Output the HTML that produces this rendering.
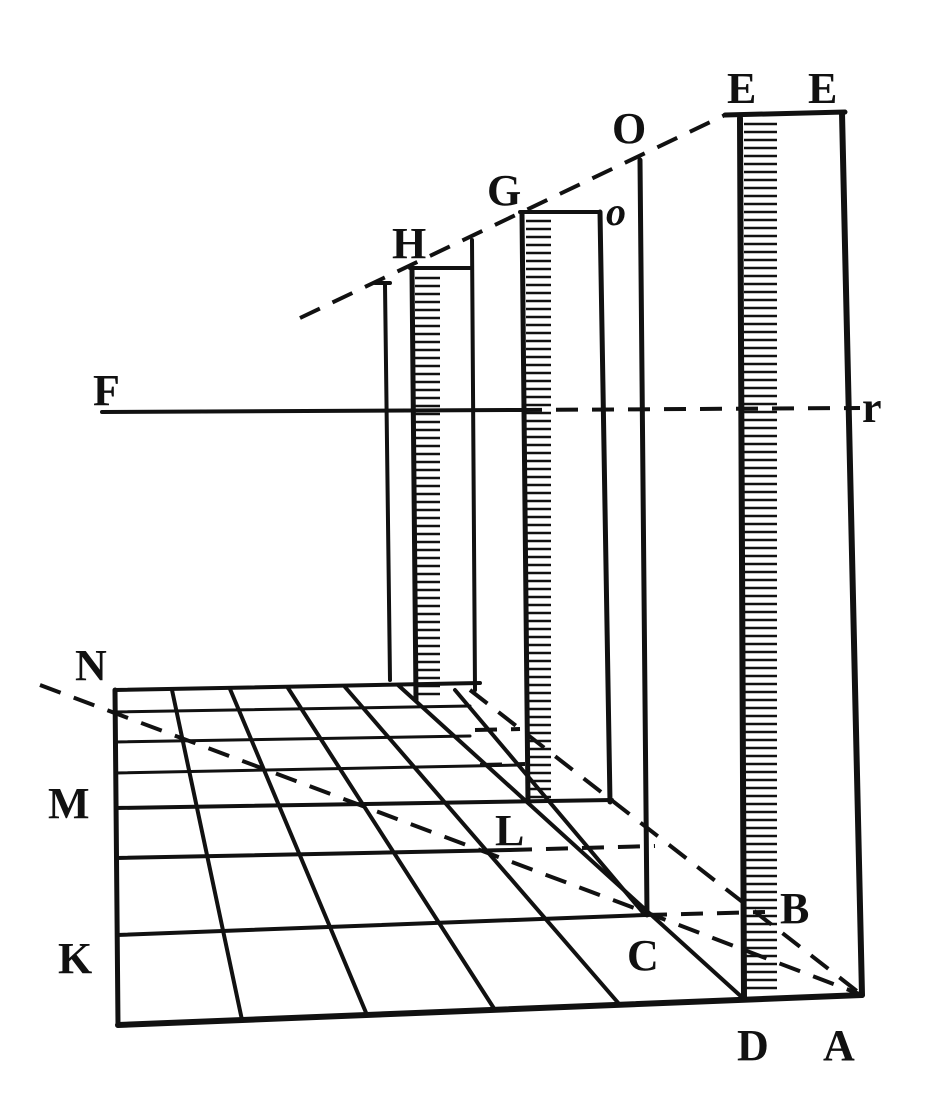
<!DOCTYPE html>
<html><head><meta charset="utf-8"><style>
html,body{margin:0;padding:0;background:#fff}
svg{display:block}
text{font-family:"Liberation Serif",serif;font-weight:bold;fill:#111}
</style></head><body>
<svg id="fig" width="948" height="1117" viewBox="0 0 948 1117" xmlns="http://www.w3.org/2000/svg">
<g id="solid" stroke="#111" stroke-linecap="round" fill="none">
  <line x1="118" y1="1025" x2="862" y2="995" stroke-width="6"/>
  <line x1="118" y1="1025" x2="115" y2="690" stroke-width="5"/>
  <line x1="115" y1="690" x2="480" y2="683" stroke-width="4"/>
  <line x1="115" y1="712" x2="470" y2="706" stroke-width="3"/>
  <line x1="115" y1="742" x2="470" y2="736" stroke-width="3"/>
  <line x1="116" y1="773" x2="520" y2="765" stroke-width="3"/>
  <line x1="116" y1="808" x2="612" y2="800" stroke-width="4"/>
  <line x1="117" y1="858" x2="510" y2="850" stroke-width="4"/>
  <line x1="117" y1="935" x2="645" y2="915" stroke-width="4"/>
  <line x1="172" y1="690" x2="242" y2="1020" stroke-width="4"/>
  <line x1="230" y1="689" x2="367" y2="1015" stroke-width="4"/>
  <line x1="288" y1="688" x2="495" y2="1010" stroke-width="4"/>
  <line x1="345" y1="687" x2="620" y2="1005" stroke-width="4"/>
  <line x1="398" y1="685" x2="745" y2="1000" stroke-width="4"/>
  <line x1="455" y1="690" x2="645" y2="915" stroke-width="4"/>
  <line x1="740" y1="118" x2="744" y2="998" stroke-width="6"/>
  <line x1="842" y1="113" x2="862" y2="995" stroke-width="6"/>
  <line x1="725" y1="115" x2="845" y2="112" stroke-width="5"/>
  <line x1="640" y1="160" x2="647" y2="915" stroke-width="5"/>
  <line x1="522" y1="213" x2="528" y2="802" stroke-width="5"/>
  <line x1="520" y1="212" x2="600" y2="212" stroke-width="4"/>
  <line x1="600" y1="212" x2="610" y2="802" stroke-width="5"/>
  <line x1="412" y1="270" x2="416" y2="700" stroke-width="5"/>
  <line x1="410" y1="268" x2="470" y2="268" stroke-width="4"/>
  <line x1="472" y1="240" x2="475" y2="690" stroke-width="4"/>
  <line x1="385" y1="285" x2="390" y2="680" stroke-width="4"/>
  <line x1="375" y1="283" x2="390" y2="283" stroke-width="4"/>
  <line x1="102" y1="412" x2="520" y2="410" stroke-width="4"/>
</g>
<g id="hatch" stroke="#111" stroke-width="2.5"></g>
<g stroke="#111" stroke-width="4" fill="none" stroke-dasharray="22 14">
  <line x1="300" y1="318" x2="725" y2="115"/>
  <line x1="520" y1="410" x2="860" y2="408"/>
  <line x1="40" y1="685" x2="645" y2="912"/>
  <line x1="645" y1="912" x2="862" y2="995"/>
  <line x1="470" y1="690" x2="862" y2="995"/>
  <line x1="510" y1="850" x2="655" y2="846"/>
  <line x1="645" y1="915" x2="765" y2="912"/>
  <line x1="475" y1="730" x2="520" y2="729"/>
  <line x1="480" y1="765" x2="525" y2="764"/>
</g>
<g font-size="44">
  <text x="727" y="103">E</text>
  <text x="808" y="103">E</text>
  <text x="612" y="143">O</text>
  <text x="487" y="205">G</text>
  <text x="606" y="225" font-size="40" font-style="italic">o</text>
  <text x="392" y="258">H</text>
  <text x="93" y="405">F</text>
  <text x="862" y="422">r</text>
  <text x="75" y="680">N</text>
  <text x="48" y="818">M</text>
  <text x="495" y="845">L</text>
  <text x="780" y="923">B</text>
  <text x="627" y="970">C</text>
  <text x="58" y="973">K</text>
  <text x="737" y="1060">D</text>
  <text x="823" y="1060">A</text>
</g>
</svg>
<script>
const hatchCols=[[744,118,995,38],[526,215,800,30],[415,272,695,30]];
const hg=document.getElementById('hatch');
hatchCols.forEach(c=>{for(let y=c[1]+6;y<c[2];y+=8){const l=document.createElementNS('http://www.w3.org/2000/svg','line');


l.setAttribute('x1',c[0]);l.setAttribute('x2',c[0]+c[3]-(y%16?5:0));l.setAttribute('y1',y);l.setAttribute('y2',y);hg.appendChild(l);}});
</script>
</body></html>
